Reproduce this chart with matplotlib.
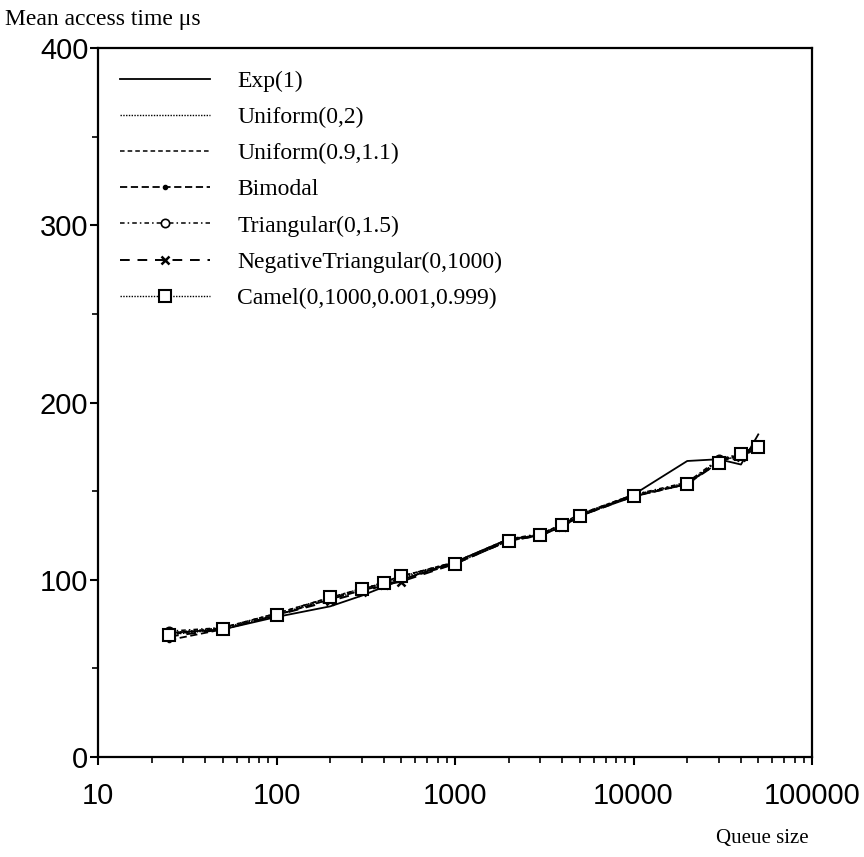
import matplotlib.pyplot as plt
from matplotlib.ticker import FixedLocator, NullFormatter, LogLocator

# Data
queue_size = [25, 50, 100, 200, 300, 400, 500, 1000, 2000, 3000, 4000, 5000,
              10000, 20000, 30000, 40000, 50000]

exp1 = [70, 72, 79, 85, 91, 96, 100, 110, 123, 125, 130, 136, 148, 167, 168, 165, 182]
uniform02 = [70, 73, 80, 89, 94, 98, 101, 110, 122, 126, 131, 137, 147, 155, 167, 170, 175]
uniform0911 = [69, 73, 81, 90, 94, 99, 102, 110, 123, 125, 132, 137, 148, 154, 167, 171, 176]
bimodal = [66, 72, 80, 89, 94, 97, 100, 109, 122, 125, 130, 136, 147, 154, 167, 170, 174]
triangular = [71, 73, 81, 90, 95, 98, 102, 110, 123, 126, 131, 137, 148, 155, 168, 171, 176]
neg_triangular = [68, 72, 80, 88, 93, 97, 99, 109, 122, 125, 130, 136, 147, 154, 166, 169, 175]
camel = [69, 72, 80, 90, 95, 98, 102, 109, 122, 125, 131, 136, 147, 154, 166, 171, 175]

serif = 'Liberation Serif'
sans = 'Liberation Sans'

fig = plt.figure(figsize=(8.64, 8.57), dpi=100)
ax = fig.add_axes([98 / 864, 1 - 757 / 857, (812 - 98) / 864, (757 - 48) / 857])

ax.plot(queue_size, exp1, color='black', lw=1.3, ls='-', label='Exp(1)')
ax.plot(queue_size, uniform02, color='black', lw=1.0, ls=(0, (1, 1)), label='Uniform(0,2)')
ax.plot(queue_size, uniform0911, color='black', lw=1.1, ls=(0, (3, 2)), label='Uniform(0.9,1.1)')
ax.plot(queue_size, bimodal, color='black', lw=1.3, ls=(0, (4, 2)), marker='o',
        ms=3, mfc='black', label='Bimodal')
ax.plot(queue_size, triangular, color='black', lw=1.1, ls=(0, (3, 2, 1, 2)), marker='o',
        ms=6, mfc='white', mew=1.2, label='Triangular(0,1.5)')
ax.plot(queue_size, neg_triangular, color='black', lw=1.4, ls=(0, (5, 4)), marker='x',
        ms=6, mew=1.8, label='NegativeTriangular(0,1000)')
ax.plot(queue_size, camel, color='black', lw=1.0, ls=(0, (1, 1)), marker='s',
        ms=8, mfc='white', mew=1.5, label='Camel(0,1000,0.001,0.999)')

ax.set_xscale('log')
ax.set_xlim(10, 100000)
ax.set_ylim(0, 400)
ax.set_xticks([10, 100, 1000, 10000, 100000])
ax.set_xticklabels(['10', '100', '1000', '10000', '100000'])
ax.xaxis.set_minor_locator(LogLocator(base=10, subs=range(2, 10)))
ax.xaxis.set_minor_formatter(NullFormatter())
ax.set_yticks([0, 100, 200, 300, 400])
ax.yaxis.set_minor_locator(FixedLocator([50, 150, 250, 350]))

for s in ax.spines.values():
    s.set_linewidth(1.6)
ax.tick_params(which='major', direction='out', length=6, width=1.5, labelsize=21)
ax.tick_params(axis='y', which='major', pad=1)
ax.tick_params(axis='x', which='major', pad=12)
ax.tick_params(which='minor', direction='out', length=4, width=1.2)
for lab in ax.get_xticklabels() + ax.get_yticklabels():
    lab.set_fontfamily(sans)

leg = ax.legend(loc='upper left', bbox_to_anchor=(111 / 864, 1 - 61 / 857),
                bbox_transform=fig.transFigure, frameon=False,
                prop={'family': serif, 'size': 17}, handlelength=3.8,
                handletextpad=1.15, labelspacing=0.62, borderaxespad=0)

fig.text(5 / 864, 1 - 20 / 857, 'Mean access time \u03bcs', family=serif,
         fontsize=17, ha='left', va='center')
fig.text(809 / 864, 1 - 838 / 857, 'Queue size', family=serif,
         fontsize=15, ha='right', va='center')

fig.savefig('out.png', dpi=100)
